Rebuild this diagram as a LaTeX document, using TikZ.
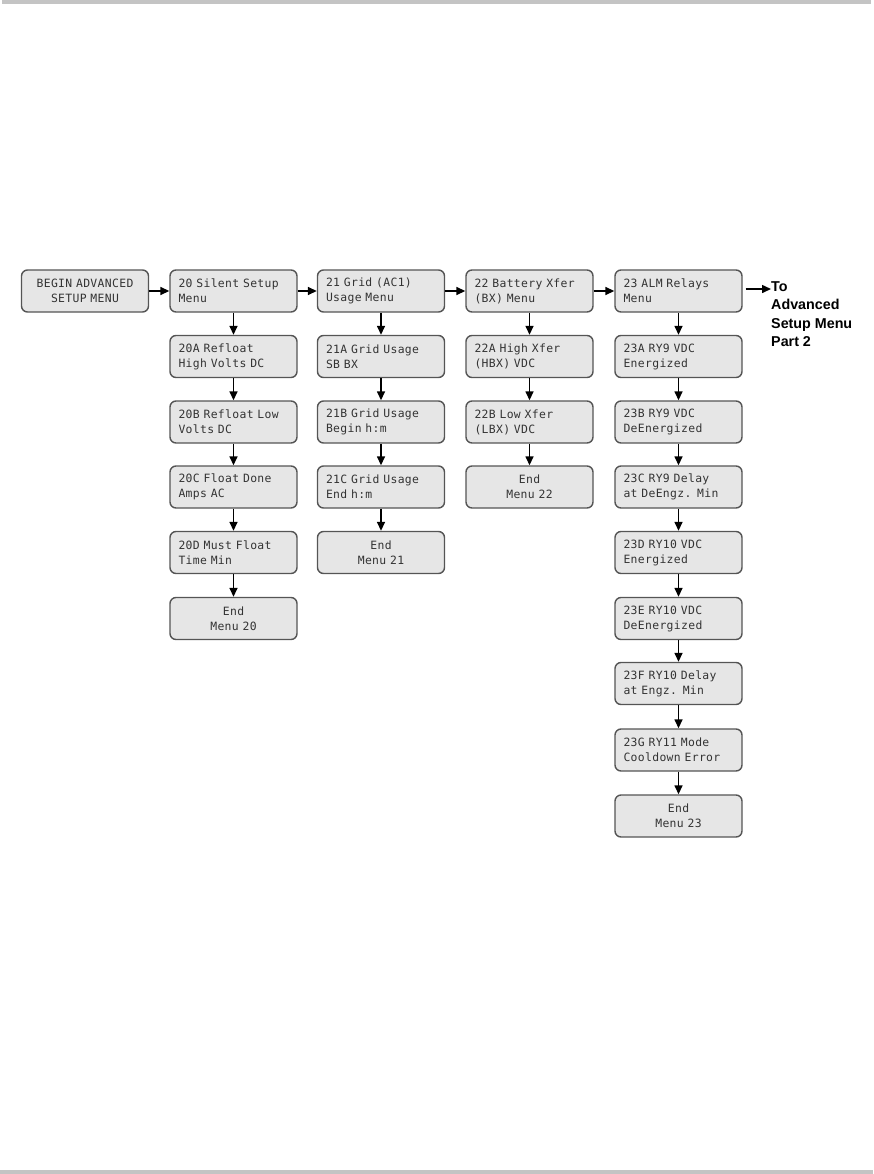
\documentclass[tikz,border=0pt]{standalone}
\usepackage{fontspec}
\setmainfont{Liberation Sans}
\newfontfamily\lcd[LetterSpace=3]{DejaVu Sans Mono}
\newcommand\lcdfont{\lcd\fontsize{11.4}{15}\selectfont\setlength{\spaceskip}{7.2pt}}
\usetikzlibrary{arrows.meta}
\definecolor{boxfill}{HTML}{E6E6E6}
\definecolor{boxline}{HTML}{555555}
\definecolor{txt}{HTML}{333333}
\definecolor{bar}{HTML}{C4C4C4}
\tikzset{
  box/.style={draw=boxline, fill=boxfill, rounded corners=6pt, line width=1.4pt,
    minimum width=127pt, minimum height=42pt, text width=110pt, inner xsep=8.5pt,
    inner ysep=0pt, align=left, font=\lcdfont, text=txt},
  cbox/.style={box, align=center},
  arr/.style={-{Triangle[length=9pt,width=8pt]}, line width=1.5pt, black},
  totext/.style={font=\bfseries\fontsize{14.3}{18.5}\selectfont, align=left, inner sep=0pt, anchor=north west}
}
\begin{document}
\begin{tikzpicture}[x=1pt,y=-1pt]
\useasboundingbox (0,0) rectangle (873,1174);
\fill[bar] (2,0) rectangle (871,4);
\fill[bar] (0,1170) rectangle (873,1174);
% top row
\node[cbox] (b0) at (85,291) {BEGIN ADVANCED\\SETUP MENU};
\node[box] (b20) at (233.5,291) {20 Silent Setup\\Menu};
\node[box] (b21) at (381,291) {21 Grid (AC1)\\Usage Menu};
\node[box] (b22) at (529.5,291) {22 Battery Xfer\\(BX) Menu};
\node[box] (b23) at (678.5,291) {23 ALM Relays\\Menu};
\node[totext] (to) at (771,281) {To\\Advanced\\Setup Menu\\Part 2};
% column 20
\node[box] (b20a) at (233.5,356.5) {20A Refloat\\High Volts DC};
\node[box] (b20b) at (233.5,422) {20B Refloat Low\\Volts DC};
\node[box] (b20c) at (233.5,487) {20C Float Done\\Amps AC};
\node[box] (b20d) at (233.5,552.5) {20D Must Float\\Time Min};
\node[cbox] (e20) at (233.5,618.5) {End\\Menu 20};
% column 21
\node[box] (b21a) at (381,356.5) {21A Grid Usage\\SB BX};
\node[box] (b21b) at (381,422) {21B Grid Usage\\Begin h:m};
\node[box] (b21c) at (381,487) {21C Grid Usage\\End h:m};
\node[cbox] (e21) at (381,552.5) {End\\Menu 21};
% column 22
\node[box] (b22a) at (529.5,356.5) {22A High Xfer\\(HBX) VDC};
\node[box] (b22b) at (529.5,422) {22B Low Xfer\\(LBX) VDC};
\node[cbox] (e22) at (529.5,487) {End\\Menu 22};
% column 23
\node[box] (b23a) at (678.5,356.5) {23A RY9 VDC\\Energized};
\node[box] (b23b) at (678.5,422) {23B RY9 VDC\\DeEnergized};
\node[box] (b23c) at (678.5,487) {23C RY9 Delay\\at DeEngz. Min};
\node[box] (b23d) at (678.5,552.5) {23D RY10 VDC\\Energized};
\node[box] (b23e) at (678.5,618.5) {23E RY10 VDC\\DeEnergized};
\node[box] (b23f) at (678.5,683.5) {23F RY10 Delay\\at Engz. Min};
\node[box] (b23g) at (678.5,750) {23G RY11 Mode\\Cooldown Error};
\node[cbox] (e23) at (678.5,816) {End\\Menu 23};
% horizontal arrows
\draw[arr] (b0) -- (b20);
\draw[arr] (b20) -- (b21);
\draw[arr] (b21) -- (b22);
\draw[arr] (b22) -- (b23);
\coordinate (tostart) at ([xshift=3pt,yshift=2pt]b23.east);
\draw[arr] (tostart) -- (tostart -| to.west);
% vertical arrows
\draw[arr] (b20) -- (b20a);
\draw[arr] (b20a) -- (b20b);
\draw[arr] (b20b) -- (b20c);
\draw[arr] (b20c) -- (b20d);
\draw[arr] (b20d) -- (e20);
\draw[arr] (b21) -- (b21a);
\draw[arr] (b21a) -- (b21b);
\draw[arr] (b21b) -- (b21c);
\draw[arr] (b21c) -- (e21);
\draw[arr] (b22) -- (b22a);
\draw[arr] (b22a) -- (b22b);
\draw[arr] (b22b) -- (e22);
\draw[arr] (b23) -- (b23a);
\draw[arr] (b23a) -- (b23b);
\draw[arr] (b23b) -- (b23c);
\draw[arr] (b23c) -- (b23d);
\draw[arr] (b23d) -- (b23e);
\draw[arr] (b23e) -- (b23f);
\draw[arr] (b23f) -- (b23g);
\draw[arr] (b23g) -- (e23);
\end{tikzpicture}
\end{document}
